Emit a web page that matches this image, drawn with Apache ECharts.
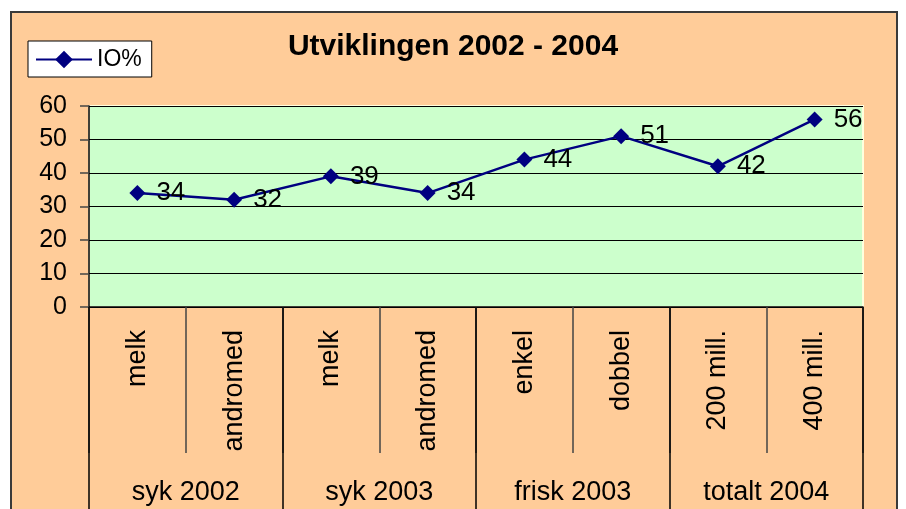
<!DOCTYPE html>
<html>
<head>
<meta charset="utf-8">
<script src="https://cdn.jsdelivr.net/npm/echarts@6/dist/echarts.min.js"></script>
<style>
  html, body { margin: 0; padding: 0; background: #fff; }
  #chart { width: 906px; height: 509px; }
</style>
</head>
<body>
<div id="chart"></div>
<script>
// data
var groups = ['syk 2002', 'syk 2003', 'frisk 2003', 'totalt 2004']
var categories = ['melk', 'andromed', 'melk', 'andromed', 'enkel', 'dobbel', '200 mill.', '400 mill.']
var ioValues = [34, 32, 39, 34, 44, 51, 42, 56]
var seriesName = 'IO%'

var font = 'Liberation Sans, Arial, sans-serif'
var chart = echarts.init(document.getElementById('chart'))

var option = {
  backgroundColor: '#ffffff',
  animation: false,
  textStyle: { fontFamily: font },
  graphic: {
    elements: [
      // outer frame of the chart
      { type: 'rect', z: -10, shape: { x: 11, y: 12, width: 886, height: 520 },
        style: { fill: '#FFCC99', stroke: '#3a3a3a', lineWidth: 2 } }
    ]
  },
  title: {
    text: 'Utviklingen 2002 - 2004',
    left: 'center',
    top: 27,
    textStyle: { fontFamily: font, fontSize: 30, fontWeight: 'bold', color: '#000' }
  },
  legend: {
    left: 28,
    top: 41,
    padding: [7, 10, 6, 7],
    backgroundColor: '#ffffff',
    borderColor: '#000',
    borderWidth: 1,
    itemWidth: 56,
    itemHeight: 22,
    textStyle: { fontFamily: font, fontSize: 23, color: '#000' },
    data: [seriesName]
  },
  grid: {
    left: 89, top: 106, right: 43, bottom: 202,
    show: true,
    backgroundColor: '#CCFFCC',
    borderColor: '#FFFFDD',
    borderWidth: 2
  },
  xAxis: [
    {
      type: 'category',
      data: categories,
      position: 'bottom',
      boundaryGap: true,
      axisLine: { show: true, lineStyle: { color: '#000', width: 1.5 } },
      axisTick: { show: true, interval: 0, length: 146, lineStyle: { color: '#444', width: 1.5 } },
      axisLabel: { interval: 0, rotate: 90, margin: 23, fontSize: 27, color: '#000', fontFamily: font }
    },
    {
      type: 'category',
      data: groups,
      position: 'bottom',
      offset: 0,
      boundaryGap: true,
      axisLine: { show: false },
      axisTick: { show: true, interval: 0, length: 230, lineStyle: { color: '#000', width: 1.5 } },
      axisLabel: { interval: 0, margin: 172, fontSize: 27, color: '#000', fontFamily: font }
    }
  ],
  yAxis: {
    type: 'value',
    min: 0,
    max: 60,
    interval: 10,
    axisLine: { show: true, lineStyle: { color: '#000', width: 1.5 } },
    axisTick: { show: true, length: 9, lineStyle: { color: '#444', width: 1.5 } },
    axisLabel: { margin: 22, fontSize: 25, color: '#000', fontFamily: font },
    splitLine: { lineStyle: { color: '#000', width: 1 } }
  },
  series: [{
    name: seriesName,
    type: 'line',
    data: ioValues,
    symbol: 'diamond',
    symbolSize: 16,
    itemStyle: { color: '#000080' },
    lineStyle: { color: '#000080', width: 2.5 },
    label: { show: true, position: 'right', distance: 11, fontSize: 26, color: '#000', fontFamily: font }
  }]
}

chart.setOption(option)
</script>
</body>
</html>
